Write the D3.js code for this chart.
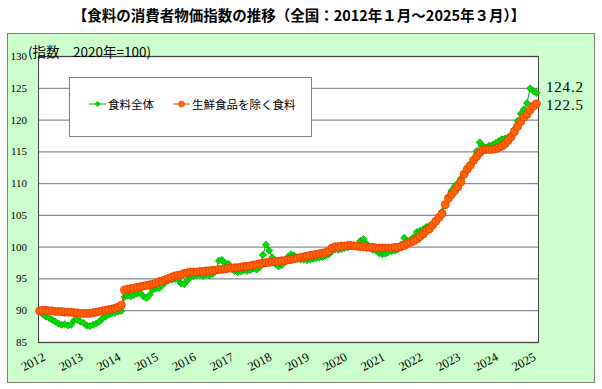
<!DOCTYPE html>
<html>
<head>
<meta charset="utf-8">
<script src="https://cdn.jsdelivr.net/npm/d3@7"></script>
<style>
  body { margin: 0; background: #fff; }
</style>
</head>
<body>
<div id="chart"></div>
<script>
// years shown on the x axis (one label each January)
var years = ["2012","2013","2014","2015","2016","2017","2018","2019","2020","2021","2022","2023","2024","2025"];
var yTicks = [85, 90, 95, 100, 105, 110, 115, 120, 125, 130];
var seriesNames = ["食料全体", "生鮮食品を除く食料"];

// 食料全体 (monthly, 2012/1 - 2025/3)
var foodAll = [
  89.8, 89.4, 89.0, 88.8, 88.5, 88.2, 87.9, 87.7, 87.8, 87.6, 87.7, 88.4,
  88.5, 88.2, 88.0, 87.6, 87.5, 87.7, 87.9, 88.2, 88.7, 89.0, 89.3, 89.5,
  89.6, 89.8, 89.9, 92.1, 92.3, 92.2, 92.4, 92.6, 92.7, 92.2, 91.9, 92.4,
  93.2, 93.4, 93.5, 93.9, 94.4, 94.7, 94.8, 94.9, 94.8, 94.2, 94.1, 94.7,
  95.2, 95.4, 95.5, 95.6, 95.4, 95.6, 95.5, 95.7, 96.2, 97.8, 97.9, 97.4,
  97.3, 96.6, 96.2, 96.0, 96.1, 96.3, 96.2, 96.3, 96.6, 96.4, 96.8, 98.7,
  100.3, 99.4, 98.3, 97.3, 96.9, 97.1, 97.6, 98.4, 98.8, 98.6, 98.3, 98.0,
  98.0, 97.9, 98.0, 98.1, 98.2, 98.3, 98.4, 98.6, 98.8, 99.3, 99.6, 99.5,
  99.6, 99.8, 99.9, 100.1, 100.2, 100.0, 100.9, 101.2, 100.4, 99.8, 99.5, 99.4,
  99.0, 98.8, 98.9, 99.2, 99.3, 99.4, 99.6, 100.3, 101.4, 100.8, 101.1, 101.5,
  102.3, 102.5, 102.7, 103.1, 103.3, 103.6, 104.2, 104.6, 105.5, 106.5, 107.5, 108.8,
  109.5, 110.0, 110.7, 111.5, 112.3, 112.9, 113.7, 115.0, 116.4, 115.8, 115.6, 115.9,
  116.0, 116.3, 116.6, 116.9, 117.0, 117.2, 117.6, 118.5, 119.8, 120.9, 121.6, 122.6,
  124.9, 124.5, 124.2
];

// 生鮮食品を除く食料
var foodExFresh = [
  89.9, 90.0, 90.0, 89.9, 89.9, 89.8, 89.8, 89.8, 89.7, 89.7, 89.7, 89.6,
  89.6, 89.5, 89.5, 89.5, 89.5, 89.6, 89.7, 89.8, 89.9, 90.0, 90.1, 90.2,
  90.3, 90.5, 90.8, 93.2, 93.3, 93.4, 93.5, 93.6, 93.7, 93.8, 93.9, 94.0,
  94.1, 94.3, 94.5, 94.6, 94.8, 95.0, 95.2, 95.4, 95.5, 95.6, 95.8, 95.9,
  96.0, 96.0, 96.0, 96.1, 96.1, 96.2, 96.2, 96.3, 96.3, 96.4, 96.4, 96.5,
  96.6, 96.6, 96.7, 96.7, 96.8, 96.9, 96.9, 97.0, 97.1, 97.2, 97.3, 97.4,
  97.5, 97.5, 97.6, 97.7, 97.7, 97.8, 97.8, 97.9, 98.0, 98.1, 98.2, 98.3,
  98.4, 98.5, 98.6, 98.7, 98.8, 98.9, 99.0, 99.1, 99.3, 99.8, 100.0, 100.0,
  100.1, 100.1, 100.2, 100.2, 100.1, 100.1, 100.0, 100.0, 99.9, 99.9, 99.9, 99.8,
  99.8, 99.8, 99.8, 99.8, 99.8, 99.9, 99.9, 100.0, 100.2, 100.5, 100.7, 100.9,
  101.2, 101.6, 102.0, 102.5, 102.8, 103.4, 104.0, 104.6, 105.2, 106.6, 107.6, 108.2,
  108.8, 109.4, 110.2, 111.4, 112.2, 112.8, 113.6, 114.2, 114.8, 115.2, 115.3, 115.3,
  115.3, 115.4, 115.6, 115.8, 116.2, 116.7, 117.3, 118.1, 118.9, 119.7, 120.4, 120.8,
  121.5, 122.1, 122.5
];

var W = 602, H = 389;
var plot = {left: 38, right: 538, top: 56, bottom: 342};

// monthly categories built from the year list
var months = [];
years.forEach(function(y) {
  for (var m = 1; m <= 12; m++) months.push(y + "-" + m);
});
months = months.slice(0, foodAll.length);

var svg = d3.select("#chart").append("svg")
    .attr("width", W)
    .attr("height", H)
    .style("font-family", "'Noto Sans CJK JP', sans-serif");

// title
svg.append("text")
    .attr("x", 299)
    .attr("y", 21)
    .attr("text-anchor", "middle")
    .attr("font-size", "14.5px")
    .attr("font-weight", "bold")
    .attr("fill", "#000")
    .text("【食料の消費者物価指数の推移（全国：2012年１月～2025年３月）】");

// green chart area
svg.append("rect")
    .attr("x", 7.5).attr("y", 33.5)
    .attr("width", 587).attr("height", 349)
    .attr("fill", "#CCFFCC")
    .attr("stroke", "#808080");

var x = d3.scaleBand()
    .domain(months)
    .range([plot.left, plot.right]);
var cx = function(i) { return x(months[i]) + x.bandwidth() / 2; };

var y = d3.scaleLinear()
    .domain([85, 130])
    .range([plot.bottom, plot.top]);

svg.append("rect")
    .attr("x", plot.left).attr("y", plot.top)
    .attr("width", plot.right - plot.left).attr("height", plot.bottom - plot.top)
    .attr("fill", "#fff");

// gridlines
svg.append("g")
    .attr("transform", "translate(" + plot.left + ",0)")
    .call(d3.axisLeft(y).tickValues(yTicks).tickSize(-(plot.right - plot.left)).tickFormat(""))
    .call(function(g) {
      g.select(".domain").remove();
      g.selectAll("line").attr("stroke", "#8c8c8c").attr("stroke-width", 1.3);
    });

// y labels
svg.append("g")
    .attr("transform", "translate(" + (plot.left - 11) + ",0)")
    .call(d3.axisLeft(y).tickValues(yTicks).tickSize(0).tickPadding(0))
    .call(function(g) {
      g.select(".domain").remove();
      g.selectAll("text")
        .attr("font-family", "'Liberation Serif', serif")
        .attr("font-size", "11px")
        .attr("fill", "#000");
    });

// plot border
svg.append("rect")
    .attr("x", plot.left + 0.5).attr("y", plot.top + 0.5)
    .attr("width", plot.right - plot.left).attr("height", plot.bottom - plot.top)
    .attr("fill", "none")
    .attr("stroke", "#404040")
    .attr("stroke-width", 1);

// x labels (rotated), one each January
svg.append("g").selectAll("text")
    .data(years)
    .enter()
    .append("text")
    .attr("transform", function(d, k) {
      return "translate(" + (cx(k * 12) + 2) + "," + 351 + ") rotate(-28)";
    })
    .attr("dy", "0.78em")
    .attr("text-anchor", "end")
    .attr("font-family", "'Liberation Serif', serif")
    .attr("font-size", "12.5px")
    .attr("fill", "#000")
    .text(function(d) { return d; });

// unit label
svg.append("text")
    .attr("x", 28)
    .attr("y", 57)
    .attr("font-size", "13.5px")
    .attr("fill", "#000")
    .text("(指数　2020年=100)");

// legend
var legend = svg.append("g");
legend.append("rect")
    .attr("x", 69.5).attr("y", 77.5)
    .attr("width", 242).attr("height", 59)
    .attr("fill", "#fff")
    .attr("stroke", "#808080");

var line = d3.line()
    .x(function(d, i) { return cx(i); })
    .y(function(d) { return y(d); });

var diamond = d3.symbol().type(d3.symbolDiamond2);

// 食料全体 series
svg.append("path")
    .datum(foodAll)
    .attr("d", line)
    .attr("fill", "none")
    .attr("stroke", "#00B000")
    .attr("stroke-width", 1);
svg.append("g").selectAll("path")
    .data(foodAll)
    .enter()
    .append("path")
    .attr("transform", function(d, i) { return "translate(" + cx(i) + "," + y(d) + ")"; })
    .attr("d", diamond.size(34))
    .attr("fill", "#00DD00")
    .attr("stroke", "#009900")
    .attr("stroke-width", 0.6);

// 生鮮食品を除く食料 series
svg.append("path")
    .datum(foodExFresh)
    .attr("d", line)
    .attr("fill", "none")
    .attr("stroke", "#FF3300")
    .attr("stroke-width", 1);
svg.append("g").selectAll("circle")
    .data(foodExFresh)
    .enter()
    .append("circle")
    .attr("cx", function(d, i) { return cx(i); })
    .attr("cy", function(d) { return y(d); })
    .attr("r", 4)
    .attr("fill", "#FF6600")
    .attr("stroke", "#E63000")
    .attr("stroke-width", 0.7);

// legend entries
var entries = [
  {x: 89, color: "#00B000"},
  {x: 173, color: "#FF3300"}
];
entries.forEach(function(e, i) {
  var g = legend.append("g").attr("transform", "translate(" + e.x + ",104)");
  g.append("line").attr("x1", 0).attr("x2", 17).attr("stroke", e.color).attr("stroke-width", 1);
  if (i == 0) {
    g.append("path").attr("transform", "translate(8.5,0)")
      .attr("d", d3.symbol().type(d3.symbolDiamond2).size(18))
      .attr("fill", "#00DD00").attr("stroke", "#009900").attr("stroke-width", 0.5);
  } else {
    g.append("circle").attr("cx", 8.5).attr("r", 3)
      .attr("fill", "#FF6600").attr("stroke", "#E63000").attr("stroke-width", 0.5);
  }
  g.append("text")
    .attr("x", 19)
    .attr("y", 4.5)
    .attr("font-size", "11.5px")
    .attr("fill", "#000")
    .text(seriesNames[i]);
});

// end value labels
var last = foodAll.length - 1;
svg.append("g").selectAll("text")
    .data([foodAll[last], foodExFresh[last]])
    .enter()
    .append("text")
    .attr("x", 546)
    .attr("y", function(d, i) { return 92 + i * 18; })
    .attr("font-family", "'Liberation Serif', serif")
    .attr("font-size", "15px")
    .attr("letter-spacing", "0.8px")
    .attr("fill", "#000")
    .text(function(d) { return d.toFixed(1); });
</script>
</body>
</html>
